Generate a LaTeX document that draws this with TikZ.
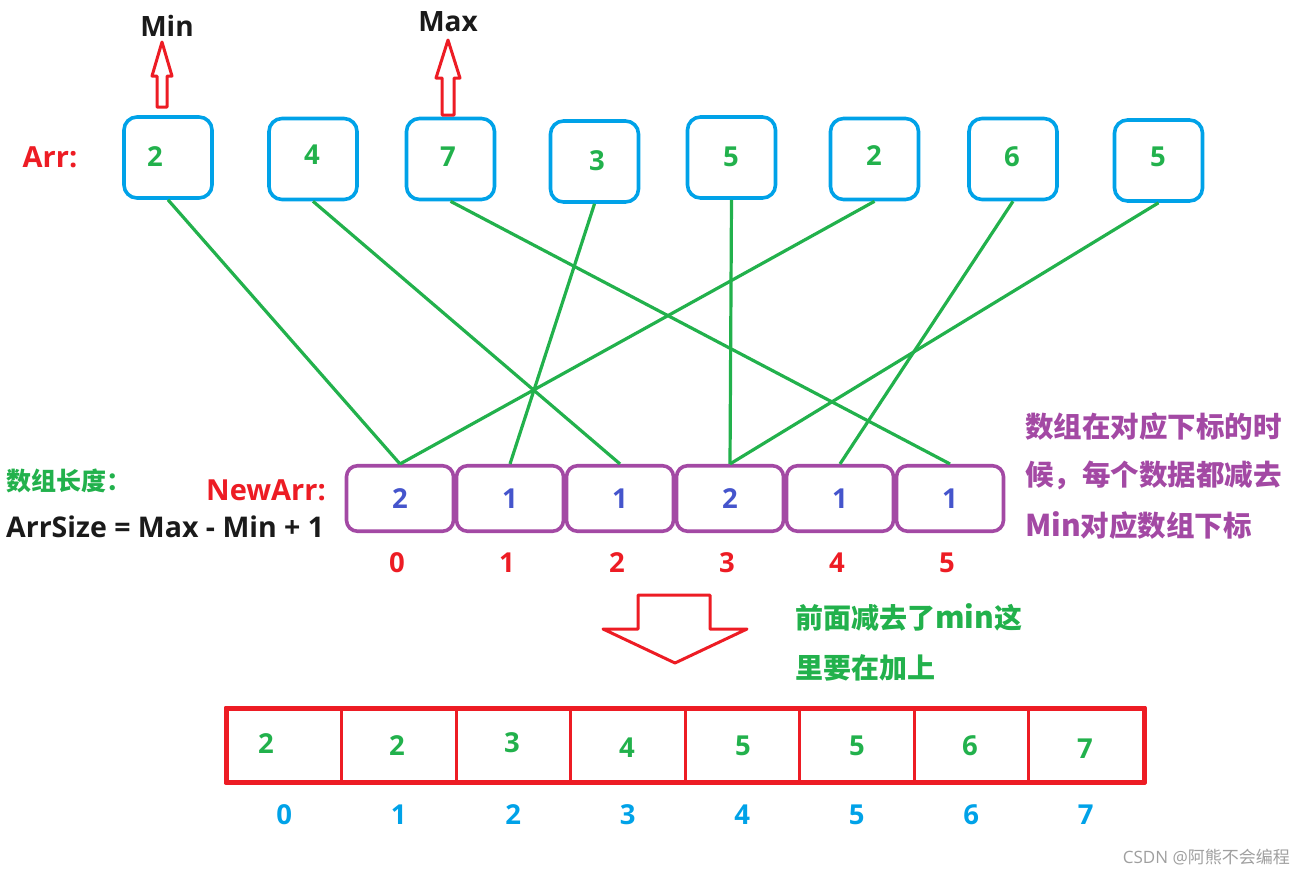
\documentclass[tikz,border=0pt]{standalone}
\usepackage{fontspec}
\setmainfont{Open Sans}
\newfontfamily\cjk{Noto Sans CJK SC}
\usetikzlibrary{calc}
\definecolor{boxblue}{HTML}{00A2E8}
\definecolor{leafgreen}{HTML}{22B14C}
\definecolor{mark}{HTML}{ED1C24}
\definecolor{violet}{HTML}{A349A4}
\definecolor{indigo}{HTML}{4555CC}
\definecolor{ink}{HTML}{1A1A1A}
\newcommand{\pxfont}[2][\bfseries]{\fontsize{#2}{#2}\selectfont#1}

\begin{document}
\begin{tikzpicture}[
  x=1pt,y=-1pt,
  line join=round,
  txt/.style={inner sep=0pt, font=\pxfont{27.5}},
  arrbox/.style={draw=boxblue, line width=3.6pt, rounded corners=13pt,
    minimum width=88pt, minimum height=81pt, inner sep=0pt},
  newbox/.style={draw=violet, line width=3.6pt, rounded corners=11pt,
    minimum width=107pt, minimum height=65.5pt, inner sep=0pt,
    font=\pxfont{27.5}, text=indigo},
  cell/.style={draw=mark, line width=3pt, minimum width=114.5pt,
    minimum height=72pt, inner sep=0pt},
  link/.style={draw=leafgreen, line width=3.2pt},
  hollow/.style={draw=mark, line width=3pt, fill=white}
]
\useasboundingbox (0,0) rectangle (1306,876);

% Arr: original values
\node[txt, text=mark, font=\pxfont{29}] (arrlbl) at (50,157) {Arr:};
\foreach \i/\x/\y/\tx/\ty/\v in {1/168/157.5/155/157/2, 2/313/159/312/155/4,
    3/450.5/159/448/157/7, 4/594.5/161.5/597/161/3, 5/731.5/157.5/731/157/5,
    6/874.5/159/874/156/2, 7/1013/159/1012/157/6, 8/1158.5/160.5/1158/157/5}{
  \node[arrbox] (a\i) at (\x,\y) {};
  \node[txt, text=leafgreen] (av\i) at (\tx,\ty) {\v};
}

% min / max markers
\draw[hollow] (157,107) -- (157,76) -- (152,76) -- (162,42) -- (172,76)
  -- (167,76) -- (167,107) -- cycle;
\draw[hollow] (442,115) -- (442,78) -- (436,78) -- (448,40) -- (460,78)
  -- (454,78) -- (454,115) -- cycle;
\node[txt, text=ink, font=\pxfont{28}] (minlbl) at (167,26) {Min};
\node[txt, text=ink, font=\pxfont{28}] (maxlbl) at (448,22) {Max};

% NewArr: counts
\node[txt, text=leafgreen, font=\pxfont{25}\cjk, anchor=west] (lenlbl) at (6,481) {数组长度：};
\node[txt, text=ink, font=\pxfont{28.5}, anchor=west] (sizelbl) at (6,527) {ArrSize = Max - Min + 1};
\node[txt, text=mark, font=\pxfont{29}, anchor=east] (newlbl) at (326,490) {NewArr:};
\foreach \i/\x/\v in {0/400/2, 1/510/1, 2/620/1, 3/730/2, 4/840/1, 5/950/1}{
  \node[newbox] (n\i) at (\x,498.5) {\v};
  \node[txt, text=mark] (ni\i) at (\x-3,563) {\i};
}

% value -> index (value - Min)
\foreach \a/\n in {1/0, 2/2, 3/5, 4/1, 5/3, 6/0, 7/4, 8/3}{
  \draw[link] (a\a.south) -- (n\n.north);
}

\node[txt, text=violet, font=\pxfont{28.5}\cjk, align=left, anchor=west] (note) at (1025,476)
  {数组在对应下标的时\\[20pt]候，每个数据都减去\\[20pt]{\fontsize{30}{30}\selectfont Min}对应数组下标};

% back to sorted output
\draw[hollow] (638,595) -- (710,595) -- (710,629) -- (747,629) -- (675,663)
  -- (603,629) -- (638,629) -- cycle;
\node[txt, text=leafgreen, font=\pxfont{28}\cjk, align=left, anchor=west] (addnote) at (795,642)
  {前面减去了{\fontsize{30}{30}\selectfont min}这\\[22pt]里要在加上};

\foreach \i/\tx/\ty/\v in {0/266/744/2, 1/397/746/2, 2/512/743/3, 3/627/748/4,
    4/743/746/5, 5/857/746/5, 6/970/746/6, 7/1085/749/7}{
  \node[cell] (b\i) at ({227+114.5*(\i+0.5)},745) {};
  \node[txt, text=leafgreen] (bv\i) at (\tx,\ty) {\v};
  \node[txt, text=boxblue] (bi\i) at ({227+114.5*(\i+0.5)},815) {\i};
}
\draw[draw=mark, line width=4pt] (b0.north west) rectangle (b7.south east);

\node[txt, text=gray!75, font={\pxfont[\mdseries]{17}}, anchor=east] (wmark) at (1290,857)
  {CSDN @{\cjk 阿熊不会编程}};
\end{tikzpicture}
\end{document}
